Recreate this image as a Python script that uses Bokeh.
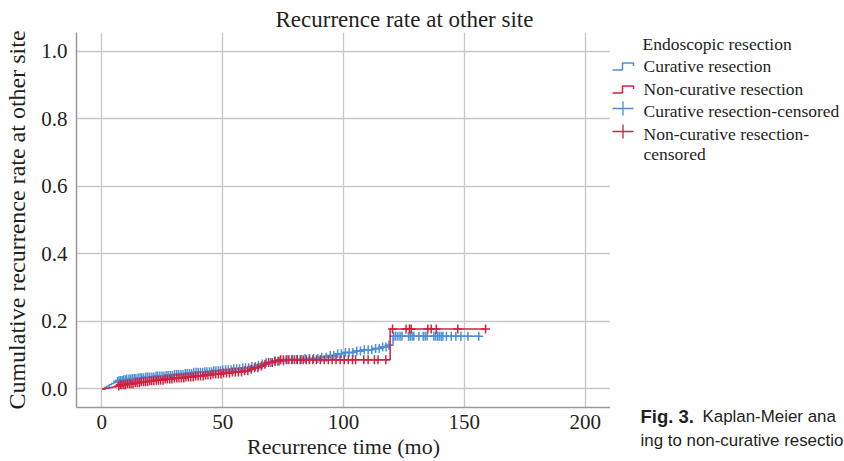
import numpy as np
from bokeh.plotting import figure
from bokeh.layouts import row
from bokeh.models import Range1d, NumeralTickFormatter
from bokeh.core.properties import value
from bokeh.embed import file_html
from bokeh.resources import INLINE

# ---------------- data ----------------
title_text = "Recurrence rate at other site"
x_label = "Recurrence time (mo)"
y_label = "Cumulative recurrence rate at other site"
legend_title = "Endoscopic resection"
legend_labels = ["Curative resection", "Non-curative resection",
                 "Curative resection-censored", "Non-curative resection-", "censored"]
x_ticks = [0, 50, 100, 150, 200]
y_ticks = [0.0, 0.2, 0.4, 0.6, 0.8, 1.0]
caption_bold = "Fig. 3."
caption_line1 = "Kaplan-Meier ana"
caption_line2 = "ing to non-curative resectio"

# Curative resection: event times (mo) and cumulative recurrence rate
cur_event_t = [0, 1, 2, 3, 4, 5, 6, 7, 8.5, 10, 12, 15, 18, 22, 26, 30, 34, 38, 42, 46,
               50, 54, 58, 61, 64, 66, 68, 70, 76, 84, 90, 94, 97, 100, 104, 108, 112,
               115, 118, 120.5]
cur_event_v = [0, 0.004, 0.008, 0.012, 0.016, 0.019, 0.022, 0.025, 0.027, 0.029, 0.031,
               0.033, 0.035, 0.038, 0.040, 0.043, 0.046, 0.049, 0.051, 0.054, 0.057,
               0.060, 0.063, 0.066, 0.070, 0.074, 0.078, 0.083, 0.087, 0.090, 0.094,
               0.099, 0.104, 0.108, 0.112, 0.116, 0.120, 0.124, 0.129, 0.156]
cur_end = 156.3
cur_censor_t = [6.5, 7.1, 7.8, 8.4, 9.0, 9.7, 10.3, 11.2, 11.9, 12.6, 13.4, 14.1, 15.0, 15.8,
                16.5, 17.3, 18.2, 19.0, 19.8, 20.7, 21.5, 22.4, 23.1, 24.0, 24.9, 25.7,
                26.6, 27.4, 28.3, 29.2, 30.1, 31.0, 31.8, 32.7, 33.6, 34.5, 35.3, 36.2,
                37.1, 38.0, 39.0, 39.9, 40.8, 41.7, 42.6, 43.5, 44.5, 45.4, 46.3, 47.2,
                48.2, 49.1, 50.0, 51.2, 52.3, 53.5, 54.6, 55.8, 57.0, 58.3, 59.5, 60.8,
                62.1, 63.5, 64.8, 66.4, 68.0, 69.8, 71.5, 73.4, 75.2, 77.0, 78.9, 80.6,
                82.5, 84.1, 85.9, 87.6, 89.4, 91.0, 92.8, 94.5, 96.0, 97.6, 99.1, 100.8,
                102.3, 103.9, 105.5, 107.0, 108.6, 110.2, 111.7, 113.3, 114.8, 116.2,
                117.6, 118.8, 120.8, 121.6, 122.5, 123.4, 124.2, 126.9, 127.6, 128.4,
                129.1, 131.2, 133.0, 133.8, 134.6, 137.4, 138.1, 138.9, 139.6, 140.4,
                141.1, 142.6, 144.6, 146.5, 148.6, 151.5, 156.0]

# Non-curative resection
non_event_t = [0, 1.5, 3, 4.5, 6, 7.5, 10, 13, 16, 19, 22, 26, 30, 34, 38, 42, 46, 50, 54,
               58, 61, 63, 65, 67, 69, 71, 73, 119.3]
non_event_v = [0, 0.002, 0.004, 0.006, 0.009, 0.012, 0.015, 0.018, 0.021, 0.024, 0.026,
               0.029, 0.032, 0.035, 0.038, 0.041, 0.044, 0.047, 0.050, 0.054, 0.058,
               0.063, 0.068, 0.073, 0.078, 0.082, 0.086, 0.177]
non_end = 159.0
non_censor_t = [7.0, 7.6, 8.3, 9.1, 9.8, 10.6, 11.4, 12.1, 12.9, 13.8, 14.6, 15.5, 16.3,
                17.2, 18.0, 18.9, 19.8, 20.6, 21.5, 22.5, 23.4, 24.3, 25.3, 26.2, 27.1,
                28.1, 29.0, 30.0, 31.0, 31.9, 32.9, 33.9, 34.8, 35.8, 36.8, 37.8, 38.8,
                39.8, 40.8, 41.9, 42.9, 43.9, 45.0, 46.0, 47.1, 48.2, 49.3, 50.4, 51.6,
                52.8, 54.0, 55.2, 56.5, 57.8, 59.1, 60.4, 61.8, 63.2, 64.6, 66.0, 67.5,
                69.0, 70.5, 71.7, 72.9, 74.0, 75.1, 76.3, 77.4, 78.6, 79.7, 80.9, 82.1,
                83.3, 84.6, 85.9, 87.3, 88.8, 90.4, 92.0, 93.7, 95.3, 96.9, 98.6, 100.3,
                102.0, 103.7, 105.0, 108.4, 110.2, 112.8, 114.3, 117.5, 120.3, 125.9,
                127.3, 128.0, 134.9, 136.3, 138.4, 147.3, 158.8]

BLUE = "#4c8fd6"
RED = "#d2203f"
TXT = "#231f20"
SERIF = "Liberation Serif"
SANS = "Liberation Sans"


def step_xy(t, v, end):
    return list(t) + [end], list(v) + [v[-1]]


def censor_y(t, v, ct):
    idx = np.searchsorted(np.array(t), np.array(ct), side="right") - 1
    return np.array(v)[idx]


# ---------------- main plot ----------------
p = figure(width=610, height=461, output_backend="svg", toolbar_location=None,
           x_range=Range1d(-10.5, 210.5), y_range=Range1d(-0.055, 1.055),
           min_border_left=76, min_border_right=0, min_border_top=32, min_border_bottom=51)
p.frame_align = False
p.outline_line_color = None
p.background_fill_color = "white"
p.border_fill_color = "white"

p.title.text = title_text
p.title.text_font = SERIF
p.title.text_font_size = "23px"
p.title.text_font_style = "normal"
p.title.text_color = TXT
p.title.align = "left"
p.title.offset = 199
p.title.standoff = 2

p.xaxis.ticker = x_ticks
p.yaxis.ticker = y_ticks
p.yaxis.formatter = NumeralTickFormatter(format="0.0")
p.axis.major_tick_out = 0
p.axis.major_tick_in = 0
p.axis.minor_tick_out = 0
p.axis.minor_tick_in = 0
p.axis.axis_line_color = "#9a9a9a"
p.axis.axis_line_width = 1.5
p.axis.major_label_text_font = SERIF
p.axis.major_label_text_font_size = "21px"
p.axis.major_label_text_color = TXT
p.axis.axis_label_text_font = SERIF
p.axis.axis_label_text_font_style = "normal"
p.axis.axis_label_text_color = TXT
p.xaxis.axis_label_text_font_size = "22px"
p.yaxis.axis_label_text_font_size = "24px"
p.xaxis.axis_label = x_label
p.yaxis.axis_label = y_label
p.xaxis.major_label_standoff = 7
p.yaxis.major_label_standoff = 9
p.xaxis.axis_label_standoff = 2
p.yaxis.axis_label_standoff = 8

p.xgrid.ticker = x_ticks
p.ygrid.ticker = y_ticks
p.grid.grid_line_color = "#c8c8c8"
p.grid.grid_line_width = 1.3

cx, cy = step_xy(cur_event_t, cur_event_v, cur_end)
nx, ny = step_xy(non_event_t, non_event_v, non_end)

p.step(cx, cy, mode="after", line_color=BLUE, line_width=1.5)
p.scatter(cur_censor_t, censor_y(cur_event_t, cur_event_v, cur_censor_t), marker="cross",
          size=9, line_color=BLUE, line_width=1.5)
p.step(nx, ny, mode="after", line_color=RED, line_width=1.5)
p.scatter(non_censor_t, censor_y(non_event_t, non_event_v, non_censor_t), marker="cross",
          size=9, line_color=RED, line_width=1.5)

# ---------------- legend / caption panel (page-pixel coordinates) ----------------
lg = figure(width=234, height=461, output_backend="svg", toolbar_location=None,
            x_range=Range1d(0, 234), y_range=Range1d(461, 0),
            x_axis_location=None, y_axis_location=None,
            min_border=0, min_border_left=0, min_border_right=0,
            min_border_top=0, min_border_bottom=0)
lg.frame_align = False
lg.title.visible = False
lg.outline_line_color = None
lg.grid.visible = False
lg.background_fill_color = "white"
lg.border_fill_color = "white"

lg.text(x=[32], y=[43], text=[legend_title], text_font=value(SERIF),
        text_font_size="17.5px", text_baseline="middle", text_color=TXT)
lg.text(x=[33] * 5, y=[65, 88, 110, 133, 153], text=legend_labels, text_font=value(SERIF),
        text_font_size="17.5px", text_baseline="middle", text_color=TXT)

# step icons
for col, yl, yh in [(BLUE, 69.5, 62.5), (RED, 92.5, 85.5)]:
    lg.line(x=[2, 12, 12, 23, 23], y=[yl, yl, yh, yh, yh + 3], line_color=col, line_width=1.5)
# cross icons
for col, yc in [(BLUE, 108), (RED, 131)]:
    lg.segment(x0=[2, 12.5], y0=[yc, yc - 7], x1=[23, 12.5], y1=[yc, yc + 7],
               line_color=col, line_width=1.3)

# caption fragment visible at the window edge in the reference
lg.text(x=[30], y=[416], text=[caption_bold], text_font=value(SANS),
        text_font_size="18.5px", text_font_style="bold", text_baseline="middle", text_color=TXT)
lg.text(x=[92], y=[416], text=[caption_line1], text_font=value(SANS),
        text_font_size="16.9px", text_baseline="middle", text_color=TXT)
lg.text(x=[30], y=[440], text=[caption_line2], text_font=value(SANS),
        text_font_size="16.9px", text_baseline="middle", text_color=TXT)

layout = row(p, lg, spacing=0)
open("out.html", "w").write(file_html(layout, INLINE))
